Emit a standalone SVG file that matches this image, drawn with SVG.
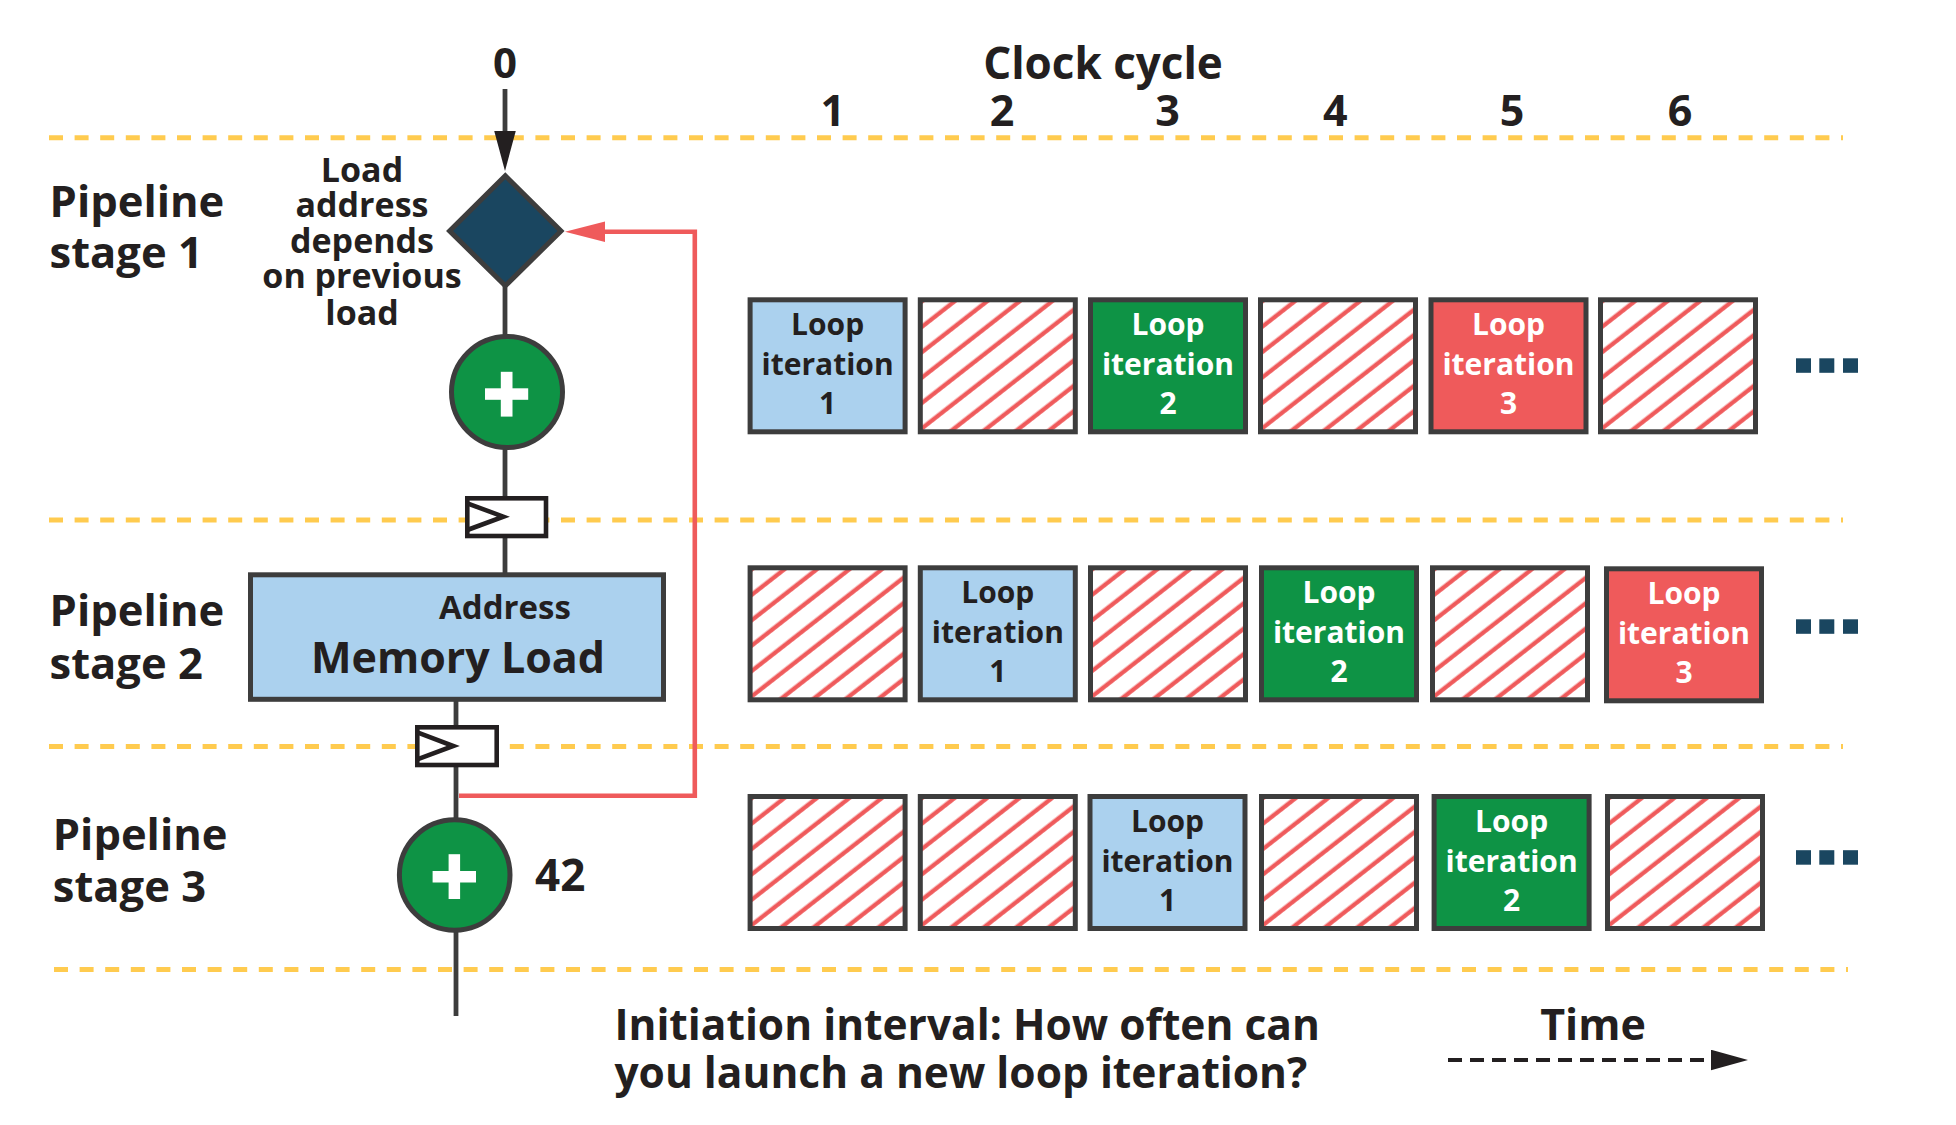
<svg xmlns="http://www.w3.org/2000/svg" width="1956" height="1125" viewBox="0 0 1956 1125">
<style>
text{font-family:"Open Sans","Noto Sans","Liberation Sans",sans-serif;font-weight:700;fill:#231F20}
.big{font-size:43px}
.stg{font-size:43.5px}
.lbl{font-size:34px;text-anchor:middle}
.cell{font-size:30px;text-anchor:middle}
.w{fill:#FFFFFF}
.c{text-anchor:middle}
.guide{stroke:#FFCB4F;stroke-width:5;stroke-dasharray:14 11.6;fill:none}
.wire{stroke:#3D3D3D;stroke-width:4.8;fill:none}
.box{stroke:#3D3D3D;stroke-width:5}
.reg{fill:#FFFFFF;stroke:#231F20;stroke-width:4.6}
.chev{fill:none;stroke:#231F20;stroke-width:4.6}
.blue{fill:#ABD1EE}
.green{fill:#0E9345}
.red{fill:#EF5A5B}
.hat{fill:url(#hatch)}
.dots{fill:#1A4660}
</style>
<defs>
<pattern id="hatch" patternUnits="userSpaceOnUse" width="20" height="20" patternTransform="rotate(-38)">
<rect x="0" y="0" width="20" height="20" fill="#FFFFFF"/>
<rect x="0" y="3.6" width="20" height="4.3" fill="#EF5A5B"/>
</pattern>
<marker id="ahBlack" markerUnits="userSpaceOnUse" markerWidth="40" markerHeight="22" viewBox="0 0 39 21" refX="0" refY="10.5" orient="auto">
<path d="M0,0 L39,10.5 L0,21 z" fill="#231F20"/>
</marker>
<marker id="ahRed" markerUnits="userSpaceOnUse" markerWidth="40" markerHeight="22" viewBox="0 0 39 20" refX="0" refY="10" orient="auto">
<path d="M0,0 L39,10 L0,20 z" fill="#EF5A5B"/>
</marker>
<marker id="ahTime" markerUnits="userSpaceOnUse" markerWidth="37" markerHeight="21" viewBox="0 0 36 20" refX="0" refY="10" orient="auto">
<path d="M0,0 L36,10 L0,20 z" fill="#231F20"/>
</marker>
</defs>

<g id="guides">
<line class="guide" x1="49" y1="137.7" x2="1843" y2="137.7"/>
<line class="guide" x1="49" y1="520" x2="1843" y2="520"/>
<line class="guide" x1="49" y1="746.6" x2="1843" y2="746.6"/>
<line class="guide" x1="54" y1="969.5" x2="1848" y2="969.5"/>
</g>

<g id="headings">
<text class="big c" x="505" y="78" style="font-size:42px">0</text>
<text class="c" x="1103" y="79" style="font-size:44px">Clock cycle</text>
<text class="big c" x="832.7" y="126">1</text>
<text class="big c" x="1002" y="126">2</text>
<text class="big c" x="1167.6" y="126">3</text>
<text class="big c" x="1335.4" y="126">4</text>
<text class="big c" x="1512" y="126">5</text>
<text class="big c" x="1680" y="126">6</text>
</g>

<g id="stage-labels">
<text class="stg" x="49.6" y="216.7">Pipeline</text>
<text class="stg" x="49.6" y="268">stage 1</text>
<text class="stg" x="49.6" y="626">Pipeline</text>
<text class="stg" x="49.6" y="679">stage 2</text>
<text class="stg" x="52.8" y="850">Pipeline</text>
<text class="stg" x="52.8" y="901.7">stage 3</text>
</g>

<g id="connectors">
<line class="wire" x1="505" y1="89" x2="505" y2="131" stroke="#231F20" marker-end="url(#ahBlack)"/>
<line class="wire" x1="505" y1="286" x2="505" y2="336"/>
<line class="wire" x1="505" y1="448" x2="505" y2="498"/>
<line class="wire" x1="505" y1="536" x2="505" y2="574"/>
<line class="wire" x1="456" y1="700" x2="456" y2="727"/>
<line class="wire" x1="456" y1="765" x2="456" y2="819"/>
<line class="wire" x1="456" y1="931" x2="456" y2="1016"/>
<path d="M459,795.8 H694.8 V231.7 H605" fill="none" stroke="#EF5A5B" stroke-width="4.6" marker-end="url(#ahRed)"/>
</g>

<g id="load-address-node">
<path class="box" d="M505.3,175.8 L561,231 L505.3,285.8 L449.6,231 Z" fill="#1A4660"/>
<text class="lbl" x="362" y="181.7">Load</text>
<text class="lbl" x="362" y="217">address</text>
<text class="lbl" x="362" y="252.5">depends</text>
<text class="lbl" x="362" y="288">on previous</text>
<text class="lbl" x="362" y="324.5">load</text>
</g>

<g id="add-node-1">
<circle class="box green" cx="507" cy="392" r="55.5"/>
<rect x="485" y="388.3" width="43.2" height="11.5" style="fill:#fff"/>
<rect x="500.8" y="371.8" width="11.7" height="44.8" style="fill:#fff"/>
</g>

<g id="register-1">
<rect class="reg" x="467.3" y="498.3" width="78.7" height="37.7"/>
<polyline class="chev" points="467.3,503.3 503.3,516.7 467.3,530"/>
</g>

<g id="memory-load-node">
<rect class="box blue" x="250.5" y="574.8" width="413" height="124.5"/>
<text class="c" x="505" y="619.3" style="font-size:33px">Address</text>
<text class="c" x="458" y="673.3" style="font-size:43px">Memory Load</text>
</g>

<g id="register-2">
<rect class="reg" x="417.3" y="727.3" width="79.4" height="37.7"/>
<polyline class="chev" points="417.3,732.3 453.3,746 417.3,759.3"/>
</g>

<g id="add-node-2">
<circle class="box green" cx="454.7" cy="875" r="55.3"/>
<rect x="432.6" y="871" width="43.4" height="11.5" style="fill:#fff"/>
<rect x="448.6" y="854.2" width="11.5" height="44.8" style="fill:#fff"/>
<text x="535" y="891" style="font-size:44px">42</text>
</g>

<g id="row-1">
<g transform="translate(747.6,297.3)"><rect class="box blue" x="2.5" y="2.5" width="155" height="132"/><text class="cell" x="80" y="38">Loop</text><text class="cell" x="80" y="78">iteration</text><text class="cell" x="80" y="117">1</text></g>
<g transform="translate(917.8,297.3)"><rect class="box hat" x="2.5" y="2.5" width="155" height="132"/></g>
<g transform="translate(1088,297.3)"><rect class="box green" x="2.5" y="2.5" width="155" height="132"/><text class="cell w" x="80" y="38">Loop</text><text class="cell w" x="80" y="78">iteration</text><text class="cell w" x="80" y="117">2</text></g>
<g transform="translate(1258,297.3)"><rect class="box hat" x="2.5" y="2.5" width="155" height="132"/></g>
<g transform="translate(1428.5,297.3)"><rect class="box red" x="2.5" y="2.5" width="155" height="132"/><text class="cell w" x="80" y="38">Loop</text><text class="cell w" x="80" y="78">iteration</text><text class="cell w" x="80" y="117">3</text></g>
<g transform="translate(1598,297.3)"><rect class="box hat" x="2.5" y="2.5" width="155" height="132"/></g>
<rect class="dots" x="1796" y="358.3" width="15" height="14.5"/><rect class="dots" x="1819.3" y="358.3" width="15" height="14.5"/><rect class="dots" x="1843" y="358.3" width="15" height="14.5"/>
</g>

<g id="row-2">
<g transform="translate(747.6,565.3)"><rect class="box hat" x="2.5" y="2.5" width="155" height="132"/></g>
<g transform="translate(917.8,565.3)"><rect class="box blue" x="2.5" y="2.5" width="155" height="132"/><text class="cell" x="80" y="38">Loop</text><text class="cell" x="80" y="78">iteration</text><text class="cell" x="80" y="117">1</text></g>
<g transform="translate(1088,565.3)"><rect class="box hat" x="2.5" y="2.5" width="155" height="132"/></g>
<g transform="translate(1259,565.3)"><rect class="box green" x="2.5" y="2.5" width="155" height="132"/><text class="cell w" x="80" y="38">Loop</text><text class="cell w" x="80" y="78">iteration</text><text class="cell w" x="80" y="117">2</text></g>
<g transform="translate(1430,565.3)"><rect class="box hat" x="2.5" y="2.5" width="155" height="132"/></g>
<g transform="translate(1604,566.3)"><rect class="box red" x="2.5" y="2.5" width="155" height="132"/><text class="cell w" x="80" y="38">Loop</text><text class="cell w" x="80" y="78">iteration</text><text class="cell w" x="80" y="117">3</text></g>
<rect class="dots" x="1796" y="619.3" width="15" height="14.5"/><rect class="dots" x="1819.3" y="619.3" width="15" height="14.5"/><rect class="dots" x="1843" y="619.3" width="15" height="14.5"/>
</g>

<g id="row-3">
<g transform="translate(747.6,794)"><rect class="box hat" x="2.5" y="2.5" width="155" height="132"/></g>
<g transform="translate(917.8,794)"><rect class="box hat" x="2.5" y="2.5" width="155" height="132"/></g>
<g transform="translate(1087.5,794)"><rect class="box blue" x="2.5" y="2.5" width="155" height="132"/><text class="cell" x="80" y="38">Loop</text><text class="cell" x="80" y="78">iteration</text><text class="cell" x="80" y="117">1</text></g>
<g transform="translate(1259,794)"><rect class="box hat" x="2.5" y="2.5" width="155" height="132"/></g>
<g transform="translate(1431.6,794)"><rect class="box green" x="2.5" y="2.5" width="155" height="132"/><text class="cell w" x="80" y="38">Loop</text><text class="cell w" x="80" y="78">iteration</text><text class="cell w" x="80" y="117">2</text></g>
<g transform="translate(1605,794)"><rect class="box hat" x="2.5" y="2.5" width="155" height="132"/></g>
<rect class="dots" x="1796" y="850.2" width="15" height="14.5"/><rect class="dots" x="1819.3" y="850.2" width="15" height="14.5"/><rect class="dots" x="1843" y="850.2" width="15" height="14.5"/>
</g>

<g id="footer">
<text x="614.4" y="1040" style="font-size:42.5px">Initiation interval: How often can</text>
<text x="614.4" y="1087.5" style="font-size:42.5px">you launch a new loop iteration?</text>
<text class="c" x="1593" y="1040" style="font-size:43px">Time</text>
<line x1="1448" y1="1060" x2="1711" y2="1060" stroke="#231F20" stroke-width="4" stroke-dasharray="14 8" marker-end="url(#ahTime)"/>
</g>
</svg>
